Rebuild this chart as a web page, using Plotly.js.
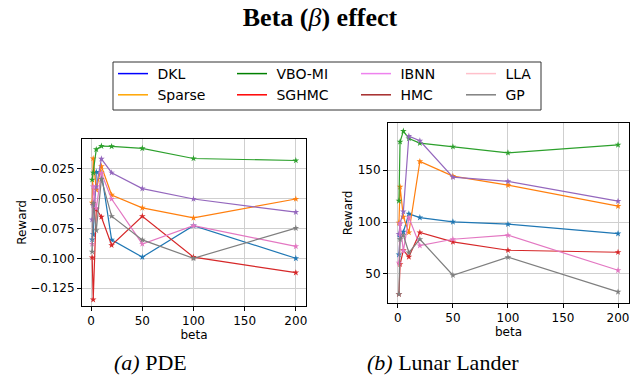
<!DOCTYPE html>
<html>
<head>
<meta charset="utf-8">
<script src="https://cdn.plot.ly/plotly-3.0.1.min.js"></script>
<style>html,body{margin:0;padding:0;background:#fff;}#chart{width:640px;height:381px;}</style>
</head>
<body>
<div id="chart"></div>
<script>
// ---- data ----
const beta = [1, 2, 5, 10, 20, 50, 100, 200];
const methods = ["DKL", "Sparse", "VBO-MI", "SGHMC", "IBNN", "HMC", "LLA", "GP"];

// PDE reward
const pdeDKL    = [-0.0843, -0.080, -0.0278, -0.0285, -0.0846, -0.0990, -0.0727, -0.1000];
const pdeSparse = [-0.0535, -0.0165, -0.0428, -0.0230, -0.0470, -0.0578, -0.0662, -0.0504];
const pdeVBO    = [-0.0343, -0.0284, -0.0089, -0.0061, -0.0064, -0.0080, -0.0165, -0.0182];
const pdeSGHMC  = [-0.0993, -0.1346, -0.0589, -0.0654, -0.0891, -0.0648, -0.0990, -0.1120];
const pdeIBNN   = [-0.0677, -0.0555, -0.0400, -0.0168, -0.0284, -0.0417, -0.0504, -0.0614];
const pdeHMC    = [];
const pdeLLA    = [-0.0880, -0.0400, -0.0580, -0.0287, -0.0504, -0.0880, -0.0727, -0.0900];
const pdeGP     = [-0.0945, -0.0540, -0.0767, -0.0338, -0.0648, -0.0846, -0.1000, -0.0747];

// Lunar Lander reward
const llDKL    = [68.6, 85.7, 90.5, 107.9, 104.3, 100.2, 97.9, 88.9];
const llSparse = [99.2, 133.9, 105.0, 89.9, 158.4, 144.2, 135.5, 115.3];
const llVBO    = [120.4, 177.3, 187.6, 180.5, 176.0, 172.5, 166.7, 174.4];
const llSGHMC  = [30.4, 59.3, 72.8, 66.4, 89.9, 80.9, 72.8, 70.9];
const llIBNN   = [88.3, 98.6, 110.1, 182.8, 178.3, 143.2, 139.1, 120.1];
const llHMC    = [];
const llLLA    = [60.6, 98.6, 72.2, 104.3, 77.3, 83.4, 87.3, 53.5];
const llGP     = [30.4, 83.4, 87.3, 70.6, 83.4, 48.7, 66.1, 32.7];

const pdeTickVals = [-0.125, -0.100, -0.075, -0.050, -0.025];
const llTickVals = [50, 100, 150];
const xTickVals = [0, 50, 100, 150, 200];

// ---- styles ----
const lineColors = ["#1f77b4", "#ff7f0e", "#2ca02c", "#d62728", "#9467bd", "#8c564b", "#e377c2", "#7f7f7f"];
const legendColors = ["#0000ff", "#ffa500", "#008000", "#ff0000", "#ee82ee", "#a52a2a", "#ffc0cb", "#808080"];

const pdeSeries = [pdeDKL, pdeSparse, pdeVBO, pdeSGHMC, pdeIBNN, pdeHMC, pdeLLA, pdeGP];
const llSeries = [llDKL, llSparse, llVBO, llSGHMC, llIBNN, llHMC, llLLA, llGP];

const traces = [];
function addSeries(series, xa, ya) {
  series.forEach((ys, i) => {
    if (!ys.length) return;
    traces.push({
      x: beta.slice(0, ys.length), y: ys, xaxis: xa, yaxis: ya,
      type: "scatter", mode: "lines+markers", showlegend: false, hoverinfo: "skip",
      line: {color: lineColors[i], width: 1.2},
      marker: {symbol: "star", size: 5, color: lineColors[i], line: {width: 0}}
    });
  });
}
addSeries(pdeSeries, "x", "y");
addSeries(llSeries, "x2", "y2");

// legend: 4 columns of 2 entries (column-major, like the reference)
const legendIds = ["legend", "legend2", "legend3", "legend4"];
methods.forEach((m, i) => {
  traces.push({
    x: [null], y: [null], xaxis: "x", yaxis: "y", type: "scatter", mode: "lines",
    name: "\u00a0" + m, showlegend: true, legend: legendIds[Math.floor(i / 2)],
    line: {color: legendColors[i], width: 1.5}
  });
});

const tickFont = {family: "DejaVu Sans", size: 12, color: "#000"};
function xAxis(domain, anchor) {
  return {
    domain: domain, anchor: anchor, range: [-8.95, 209.95],
    tickvals: xTickVals, ticktext: xTickVals.map(String),
    ticks: "outside", ticklen: 4, tickwidth: 1, tickcolor: "#000",
    showline: true, linecolor: "#000", linewidth: 1, mirror: true,
    showgrid: true, gridcolor: "#cfcfcf", gridwidth: 1, zeroline: false,
    tickfont: tickFont,
    title: {text: "beta", font: {family: "DejaVu Sans", size: 12, color: "#000"}, standoff: 3}
  };
}
function yAxis(domain, anchor, range, tv, standoff) {
  return {
    domain: domain, anchor: anchor, range: range,
    tickvals: tv, tickformat: tv[0] < 0 ? ".3f" : "d",
    ticks: "outside", ticklen: 4, tickwidth: 1, tickcolor: "#000",
    showline: true, linecolor: "#000", linewidth: 1, mirror: true,
    showgrid: true, gridcolor: "#cfcfcf", gridwidth: 1, zeroline: false,
    tickfont: tickFont,
    title: {text: "Reward", font: {family: "DejaVu Sans", size: 12, color: "#000"}, standoff: standoff}
  };
}

const W = 640, H = 381;
function legendAt(px) {
  return {
    orientation: "v", x: px / W, y: 1 - 58 / H, xanchor: "left", yanchor: "top",
    xref: "paper", yref: "paper",
    font: {family: "DejaVu Sans", size: 14, color: "#000"},
    borderwidth: 0, bgcolor: "rgba(0,0,0,0)",
    traceorder: "normal", itemclick: false, itemdoubleclick: false
  };
}

const layout = {
  width: W, height: H,
  margin: {l: 0, r: 0, t: 0, b: 0},
  paper_bgcolor: "#fff", plot_bgcolor: "#fff",
  title: {
    text: "<b>Beta (</b><i>β</i><b>) effect</b>",
    font: {family: "Liberation Serif", size: 26, color: "#000"},
    x: 0.5, xref: "paper", xanchor: "center",
    y: 1 - 17 / H, yref: "container", yanchor: "middle"
  },
  xaxis: xAxis([82 / W, 306 / W], "y"),
  yaxis: yAxis([(H - 306) / H, (H - 139) / H], "x", [-0.1399, -0.0002], pdeTickVals, 0),
  xaxis2: xAxis([388 / W, 629 / W], "y2"),
  yaxis2: yAxis([(H - 303) / H, (H - 123) / H], "x2", [22.0, 195.4], llTickVals, 2),
  showlegend: true,
  legend: legendAt(113),
  legend2: legendAt(232),
  legend3: legendAt(356),
  legend4: legendAt(461),
  shapes: [
    {type: "rect", xref: "paper", yref: "paper",
     x0: 113 / W, x1: 541 / W, y0: 1 - 110 / H, y1: 1 - 62 / H,
     line: {color: "#333", width: 1}, fillcolor: "rgba(0,0,0,0)"}
  ],
  annotations: [
    {text: "<i>(a)</i> PDE", x: 150 / W, y: 1 - 362 / H, xref: "paper", yref: "paper",
     xanchor: "center", yanchor: "middle", showarrow: false,
     font: {family: "Liberation Serif", size: 22, color: "#000"}},
    {text: "<i>(b)</i> Lunar Lander", x: 443 / W, y: 1 - 362 / H, xref: "paper", yref: "paper",
     xanchor: "center", yanchor: "middle", showarrow: false,
     font: {family: "Liberation Serif", size: 22, color: "#000"}}
  ]
};

Plotly.newPlot("chart", traces, layout, {displayModeBar: false, staticPlot: true});
</script>
</body>
</html>
